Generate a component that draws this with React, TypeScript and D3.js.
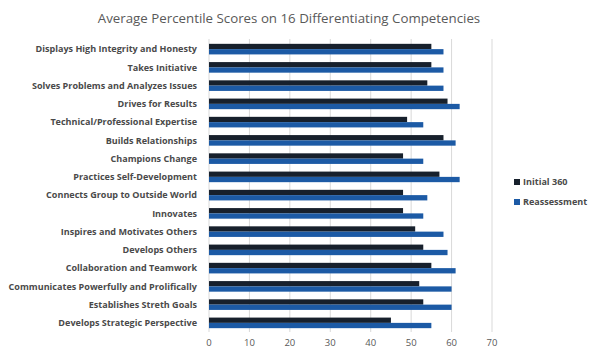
import React from "react";
import * as d3 from "d3";

const categories = [
  "Displays High Integrity and Honesty",
  "Takes Initiative",
  "Solves Problems and Analyzes Issues",
  "Drives for Results",
  "Technical/Professional Expertise",
  "Builds Relationships",
  "Champions Change",
  "Practices Self-Development",
  "Connects Group to Outside World",
  "Innovates",
  "Inspires and Motivates Others",
  "Develops Others",
  "Collaboration and Teamwork",
  "Communicates Powerfully and Prolifically",
  "Establishes Streth Goals",
  "Develops Strategic Perspective",
];
const initial360 = [55, 55, 54, 59, 49, 58, 48, 57, 48, 48, 51, 53, 55, 52, 53, 45];
const reassessment = [58, 58, 58, 62, 53, 61, 53, 62, 54, 53, 58, 59, 61, 60, 60, 55];
const seriesNames = ["Initial 360", "Reassessment"];
const xTicks = [0, 10, 20, 30, 40, 50, 60, 70];
const title = "Average Percentile Scores on 16 Differentiating Competencies";

const colors = ["#17202c", "#1c5aa5"];
const font = "'Open Sans', 'Liberation Sans', sans-serif";

export default function App() {
  const W = 600, H = 358;
  const x = d3.scaleLinear().domain([0, 70]).range([209, 492]);
  const y = d3.scaleBand<string>().domain(categories).range([40, 332]).paddingInner(0.42).paddingOuter(0.21);
  const sub = d3.scaleBand<string>().domain(seriesNames).range([0, y.bandwidth()]);
  const series = [initial360, reassessment];
  return (
    <svg width={W} height={H} style={{ position: "absolute", left: 0, top: 0, background: "#fff" }}>
      <text x={289} y={23} textAnchor="middle" fontFamily={font} fontSize={13.3} fill="#595959">
        {title}
      </text>
      {xTicks.map((t) => (
        <line key={t} x1={x(t)} x2={x(t)} y1={39} y2={332} stroke="#d9d9d9" strokeWidth={1} />
      ))}
      {xTicks.map((t) => (
        <text key={"l" + t} x={x(t)} y={346} textAnchor="middle" fontFamily={font} fontSize={9.5} fill="#595959">
          {t}
        </text>
      ))}
      {categories.map((c, i) => (
        <g key={c}>
          {series.map((s, j) => (
            <rect
              key={j}
              x={x(0)}
              y={(y(c) as number) + (sub(seriesNames[j]) as number)}
              width={x(s[i]) - x(0)}
              height={sub.bandwidth()}
              fill={colors[j]}
            />
          ))}
          <text
            x={197}
            y={(y(c) as number) + y.bandwidth() / 2}
            dy="0.35em"
            textAnchor="end"
            fontFamily={font}
            fontWeight="bold"
            fontSize={9.05}
            fill="#4a4a4a"
          >
            {c}
          </text>
        </g>
      ))}
      {seriesNames.map((n, j) => (
        <g key={n} transform={`translate(514, ${182 + j * 20})`}>
          <rect x={0} y={-3} width={6} height={6} fill={colors[j]} />
          <text x={9} y={0} dy="0.35em" fontFamily={font} fontSize={9.05} fontWeight="bold" fill="#4a4a4a">
            {n}
          </text>
        </g>
      ))}
    </svg>
  );
}
